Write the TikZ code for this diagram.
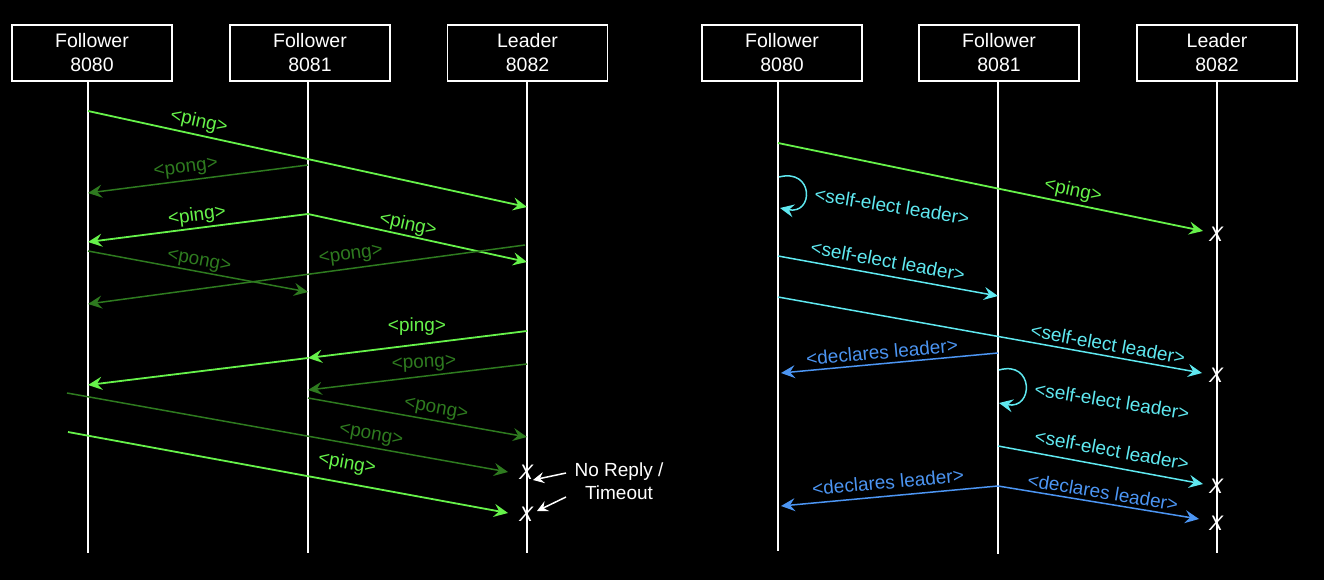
\documentclass[tikz,border=0pt]{standalone}
\usepackage{fontspec}
\setmainfont{Liberation Sans}
\usetikzlibrary{arrows.meta}
\definecolor{pingc}{HTML}{66F24A}
\definecolor{pongc}{HTML}{2E7A1F}
\definecolor{selfc}{HTML}{5FE8F0}
\definecolor{declc}{HTML}{4C95F2}
\begin{document}
\begin{tikzpicture}[x=1pt,y=-1pt,
  box/.style={draw=white, line width=1.3pt, minimum width=160pt, minimum height=56pt, align=center, text=white, font=\fontsize{19.5}{24}\selectfont, inner sep=0pt},
  life/.style={draw=white, line width=1.3pt},
  tipx/.style={-{Stealth[length=14pt,width=13pt,inset=5pt]}},
  pingm/.style={draw=pingc, line width=1.8pt, tipx},
  pongm/.style={draw=pongc, line width=1.5pt, tipx},
  selfm/.style={draw=selfc, line width=1.5pt, tipx},
  declm/.style={draw=declc, line width=1.5pt, tipx},
  lbl/.style={font=\fontsize{19}{20}\selectfont, inner sep=0pt},
  pingl/.style={lbl, text=pingc},
  pongl/.style={lbl, text=pongc},
  selfl/.style={lbl, text=selfc},
  decll/.style={lbl, text=declc},
  xmark/.style={text=white, font=\fontsize{21}{21}\selectfont\itshape, inner sep=0pt},
  note/.style={draw=white, line width=1.5pt, -{Stealth[length=11pt,width=11pt,inset=4pt]}},
]
\fill[black] (0,0) rectangle (1324,580);
\useasboundingbox (0,0) rectangle (1324,580);

% ---------- left diagram ----------
\node[box] (A1) at (92,53) {Follower\\8080};
\node[box] (A2) at (310,53) {Follower\\8081};
\node[box] (A3) at (527.5,53) {Leader\\8082};
\coordinate (a1t) at (88,81);  \coordinate (a1b) at (88,553);
\coordinate (a2t) at (308,81); \coordinate (a2b) at (308,553);
\coordinate (a3t) at (527,81); \coordinate (a3b) at (527,553);
\draw[life] (a1t) -- (a1b);
\draw[life] (a2t) -- (a2b);
\draw[life] (a3t) -- (a3b);

% msg 1
\coordinate (m1s) at (88,111); \coordinate (m1e) at (527,207);
\draw[pingm] (m1s) -- (m1e);
\node[pingl, rotate=-12.3] (m1l) at (199,122) {<ping>};
% msg 2
\coordinate (m2s) at (308,165); \coordinate (m2e) at (88,193);
\draw[pongm] (m2s) -- (m2e);
\node[pongl, rotate=7.2] (m2l) at (186,169) {<pong>};
% msg 3
\coordinate (m3s) at (308,214); \coordinate (m3e) at (88,242); \coordinate (m3f) at (527,262);
\draw[pingm] (m3s) -- (m3e);
\draw[pingm] (m3s) -- (m3f);
\node[pingl, rotate=7.2] (m3l) at (197,216) {<ping>};
\node[pingl, rotate=-12.3] (m3k) at (408,225) {<ping>};
% msg 4
\coordinate (m4s) at (88,251); \coordinate (m4e) at (308,292);
\draw[pongm] (m4s) -- (m4e);
\node[pongl, rotate=-10.6] (m4l) at (199,262) {<pong>};
% msg 5
\coordinate (m5s) at (525,245); \coordinate (m5e) at (88,304);
\draw[pongm] (m5s) -- (m5e);
\node[pongl, rotate=7.7] (m5l) at (351,256) {<pong>};
% msg 6
\coordinate (m6s) at (527,331); \coordinate (m6m) at (308,358); \coordinate (m6e) at (88,385);
\draw[pingm] (m6s) -- (m6m);
\draw[pingm] (m6m) -- (m6e);
\node[pingl] (m6l) at (417,327) {<ping>};
% msg 7
\coordinate (m7s) at (527,364); \coordinate (m7e) at (308,390);
\draw[pongm] (m7s) -- (m7e);
\node[pongl, rotate=3] (m7l) at (424,364) {<pong>};
% msg 8
\coordinate (m8s) at (308,398); \coordinate (m8e) at (527,437);
\draw[pongm] (m8s) -- (m8e);
\node[pongl, rotate=-10] (m8l) at (436,410) {<pong>};
% msg 9
\coordinate (m9s) at (67,393); \coordinate (m9e) at (508,472);
\draw[pongm] (m9s) -- (m9e);
\node[pongl, rotate=-10] (m9l) at (371,436) {<pong>};
% msg 10
\coordinate (m10s) at (68,432); \coordinate (m10e) at (508,513);
\draw[pingm] (m10s) -- (m10e);
\node[pingl, rotate=-10] (m10l) at (347,464) {<ping>};
% timeouts
\node[xmark] (x1) at (526,472) {X};
\node[xmark] (x2) at (526,514) {X};
\node[text=white, align=center, font=\fontsize{19}{23}\selectfont, inner sep=0pt] (nr) at (619,481) {No Reply /\\Timeout};
\coordinate (n1s) at (566,473); \coordinate (n1e) at (533,480);
\coordinate (n2s) at (566,497); \coordinate (n2e) at (537,511);
\draw[note] (n1s) -- (n1e);
\draw[note] (n2s) -- (n2e);

% ---------- right diagram ----------
\node[box] (B1) at (782,53) {Follower\\8080};
\node[box] (B2) at (999,53) {Follower\\8081};
\node[box] (B3) at (1217,53) {Leader\\8082};
\coordinate (b1t) at (778,81);  \coordinate (b1b) at (778,551);
\coordinate (b2t) at (998,81);  \coordinate (b2b) at (998,554);
\coordinate (b3t) at (1217,81); \coordinate (b3b) at (1217,553);
\draw[life] (b1t) -- (b1b);
\draw[life] (b2t) -- (b2b);
\draw[life] (b3t) -- (b3b);

% r1 ping lost
\coordinate (r1s) at (778,143); \coordinate (r1e) at (1203,231);
\draw[pingm] (r1s) -- (r1e);
\node[pingl, rotate=-11.7] (r1l) at (1073,191) {<ping>};
\node[xmark] (y1) at (1216,234) {X};
% r2 self loop
\coordinate (r2s) at (779,177); \coordinate (r2e) at (780,208);
\draw[selfm] (r2s) .. controls (814,168) and (814,215) .. (r2e);
\node[selfl, rotate=-9] (r2l) at (892,206) {<self-elect leader>};
% r3
\coordinate (r3s) at (778,256); \coordinate (r3e) at (998,296);
\draw[selfm] (r3s) -- (r3e);
\node[selfl, rotate=-10.3] (r3l) at (888,261) {<self-elect leader>};
% r4
\coordinate (r4s) at (778,297); \coordinate (r4e) at (1202,373);
\draw[selfm] (r4s) -- (r4e);
\node[selfl, rotate=-10.1] (r4l) at (1108,344) {<self-elect leader>};
\node[xmark] (y2) at (1216,375) {X};
% r5
\coordinate (r5s) at (998,353); \coordinate (r5e) at (781,373);
\draw[declm] (r5s) -- (r5e);
\node[decll, rotate=5.3] (r5l) at (882,352) {<declares leader>};
% r6 self loop
\coordinate (r6s) at (999,370); \coordinate (r6e) at (999,403);
\draw[selfm] (r6s) .. controls (1034,360) and (1034,410) .. (r6e);
\node[selfl, rotate=-9] (r6l) at (1112,401) {<self-elect leader>};
% r7
\coordinate (r7s) at (998,446); \coordinate (r7e) at (1203,484);
\draw[selfm] (r7s) -- (r7e);
\node[selfl, rotate=-10.5] (r7l) at (1112,450) {<self-elect leader>};
\node[xmark] (y3) at (1216,486) {X};
% r8, r9
\coordinate (r8s) at (998,486); \coordinate (r8e) at (781,506); \coordinate (r9e) at (1199,519);
\draw[declm] (r8s) -- (r8e);
\draw[declm] (r8s) -- (r9e);
\node[decll, rotate=5.3] (r8l) at (888,482) {<declares leader>};
\node[decll, rotate=-9.4] (r9l) at (1103,492) {<declares leader>};
\node[xmark] (y4) at (1216,523) {X};
\end{tikzpicture}
\end{document}
